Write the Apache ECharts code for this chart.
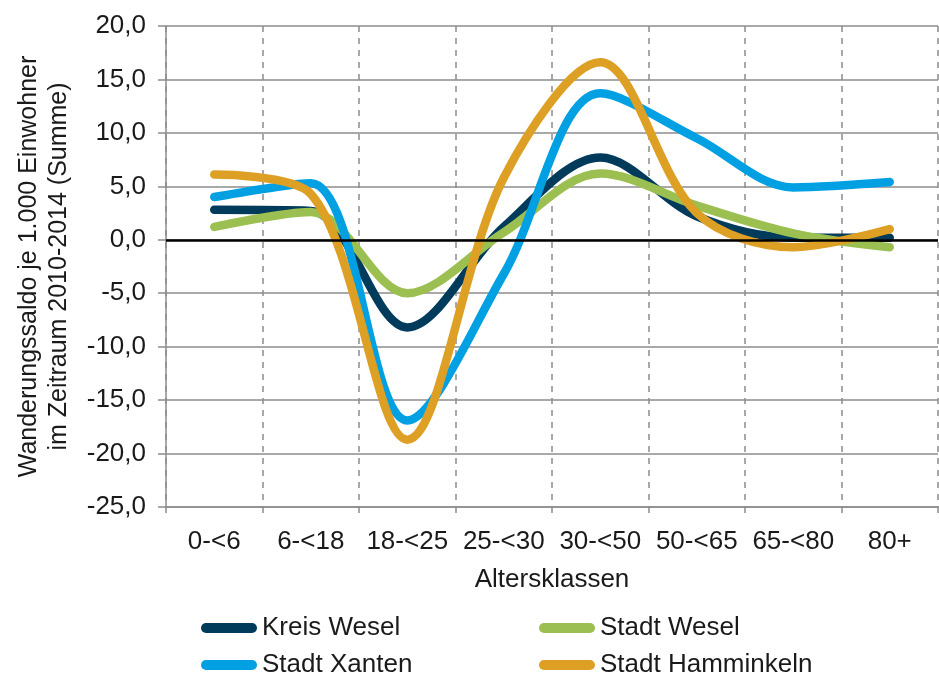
<!DOCTYPE html>
<html>
<head>
<meta charset="utf-8">
<style>
  html, body { margin: 0; padding: 0; background: #fff; }
  #main { width: 939px; height: 675px; }
</style>
</head>
<body>
<div id="main"></div>
<script src="https://cdn.jsdelivr.net/npm/echarts@6/dist/echarts.min.js"></script>
<script type="text/javascript">
    // Altersklassen
    var categories = ['0-<6', '6-<18', '18-<25', '25-<30', '30-<50', '50-<65', '65-<80', '80+'];
    // Wanderungssaldo je 1.000 Einwohner (Summe 2010-2014)
    var kreisWesel = [2.8, 2.7, -8.2, 1.2, 7.7, 2.2, 0.2, 0.2];
    var stadtWesel = [1.2, 2.6, -5.0, 0.7, 6.2, 3.2, 0.6, -0.7];
    var stadtXanten = [4.0, 5.3, -16.9, -3.2, 13.7, 9.5, 4.9, 5.4];
    var stadtHamminkeln = [6.1, 4.3, -18.7, 5.8, 16.6, 2.5, -0.7, 1.0];

    var fontFamily = '"Liberation Sans", Arial, sans-serif';
    var textColor = '#1a1a1a';
    var gridColor = '#8c8c8c';
    var pill = 'path://M5,0 L51,0 A5,5 0 0 1 51,10 L5,10 A5,5 0 0 1 5,0 Z';

    function line(name, data, color) {
        return {
            name: name,
            type: 'line',
            data: data,
            smooth: 0.33,
            showSymbol: false,
            symbol: 'none',
            lineStyle: { width: 8.5, color: color, cap: 'round' },
            itemStyle: { color: color }
        };
    }

    var series = [
        line('Kreis Wesel', kreisWesel, '#003b5c'),
        line('Stadt Wesel', stadtWesel, '#9bbf50'),
        line('Stadt Xanten', stadtXanten, '#00a0e3'),
        line('Stadt Hamminkeln', stadtHamminkeln, '#dda024')
    ];
    // Nulllinie
    series[0].markLine = {
        silent: true,
        symbol: 'none',
        label: { show: false },
        lineStyle: { color: '#000', width: 2.5, type: 'solid' },
        data: [{ yAxis: 0 }]
    };

    function legendItem(name, left, top) {
        return {
            left: left, top: top,
            itemWidth: 56, itemHeight: 10, icon: pill,
            textStyle: { fontFamily: fontFamily, fontSize: 26, color: textColor },
            data: [name]
        };
    }

    var myChart = echarts.init(document.getElementById('main'));
    myChart.setOption({
        animation: false,
        textStyle: { fontFamily: fontFamily },
        grid: { left: 166, right: 1, top: 26, bottom: 168, containLabel: false },
        legend: [
            legendItem('Kreis Wesel', 196, 610),
            legendItem('Stadt Xanten', 196, 647),
            legendItem('Stadt Wesel', 534, 610),
            legendItem('Stadt Hamminkeln', 534, 647)
        ],
        xAxis: {
            type: 'category',
            data: categories,
            boundaryGap: true,
            name: 'Altersklassen',
            nameLocation: 'middle',
            nameGap: 60,
            nameTextStyle: { fontSize: 26, color: textColor, fontFamily: fontFamily },
            axisLine: { onZero: false, lineStyle: { color: gridColor, width: 1.5 } },
            axisTick: { show: true, length: 6, lineStyle: { color: gridColor, width: 1.5 } },
            axisLabel: { fontSize: 26, color: textColor, margin: 22, interval: 0 },
            splitLine: { show: true, lineStyle: { color: gridColor, width: 1.5, type: [6, 6] } }
        },
        yAxis: {
            type: 'value',
            min: -25,
            max: 20,
            interval: 5,
            name: 'Wanderungssaldo je 1.000 Einwohner\nim Zeitraum 2010-2014 (Summe)',
            nameLocation: 'middle',
            nameGap: 92,
            nameRotate: 90,
            nameTextStyle: { fontSize: 25, color: textColor, lineHeight: 30, fontFamily: fontFamily },
            axisLine: { show: true, lineStyle: { color: gridColor, width: 1.5 } },
            axisTick: { show: true, length: 8, lineStyle: { color: gridColor, width: 1.5 } },
            axisLabel: {
                fontSize: 26, color: textColor, margin: 20,
                formatter: function (v) { return v.toFixed(1).replace('.', ','); }
            },
            splitLine: { show: true, lineStyle: { color: gridColor, width: 1.5, type: 'solid' } }
        },
        series: series
    });
</script>
</body>
</html>
